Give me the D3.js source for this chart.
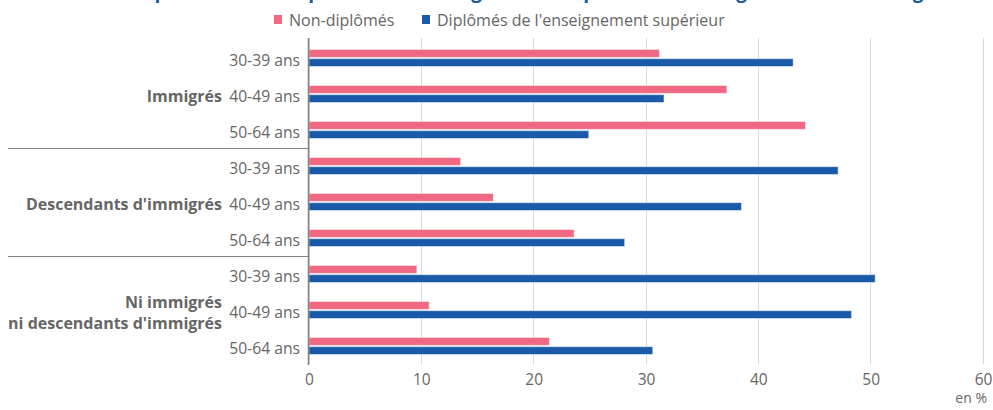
<!DOCTYPE html>
<html lang="fr">
<head>
<meta charset="utf-8">
<script src="https://cdn.jsdelivr.net/npm/d3@7/dist/d3.min.js"></script>
<style>
  html, body { margin: 0; padding: 0; background: #fff; }
  svg { display: block; font-family: "Open Sans", "Noto Sans", sans-serif; }
</style>
</head>
<body>
<svg id="chart" width="993" height="410"></svg>
<script>
// Groups, age classes and the two series (shares in %)
const groups = ["Immigrés", "Descendants d'immigrés", "Ni immigrés\nni descendants d'immigrés"];
const ages = ["30-39 ans", "40-49 ans", "50-64 ans"];
const seriesNames = ["Non-diplômés", "Diplômés de l'enseignement supérieur"];
const nonDiplomes = [31.2, 37.2, 44.2, 13.5, 16.4, 23.6, 9.6, 10.7, 21.4];
const diplomesSup = [43.1, 31.6, 24.9, 47.1, 38.5, 28.1, 50.4, 48.3, 30.6];
const xTicks = [0, 10, 20, 30, 40, 50, 60];
const title = "Part des non-diplômés et des diplômés de l'enseignement supérieur selon l'âge et le lien à la migration";
const unitLabel = "en %";

const colors = ["#f06882", "#1a5aa8"];
const textColor = "#666666";

const svg = d3.select("#chart");
const W = 993, H = 410;
const plot = { left: 309, right: 983, top: 40, bottom: 364 };

// Rows: one per (group, age)
const rows = [];
groups.forEach((g, gi) => ages.forEach((a, ai) => rows.push({ key: gi + "|" + ai, group: gi, age: a })));
rows.forEach((r, i) => { r.values = [nonDiplomes[i], diplomesSup[i]]; });

const x = d3.scaleLinear().domain([0, 60]).range([plot.left, plot.right]);
const y = d3.scaleBand().domain(rows.map(r => r.key))
  .range([plot.top, plot.bottom]).paddingInner(0.53).paddingOuter(0.265);
const ySub = d3.scaleBand().domain([0, 1]).range([0, y.bandwidth()]).paddingInner(0.15);

// Title, running off the top edge
svg.append("text")
  .attr("x", W / 2).attr("y", -2)
  .attr("text-anchor", "middle")
  .attr("font-size", 19).attr("font-weight", 700)
  .attr("fill", "#1a5aa8")
  .text(title);

// Legend
const legend = svg.append("g");
const legendItems = [{ x: 274, name: seriesNames[0], c: colors[0] }, { x: 422, name: seriesNames[1], c: colors[1] }];
legendItems.forEach(it => {
  legend.append("rect").attr("x", it.x).attr("y", 15).attr("width", 8).attr("height", 9).attr("fill", it.c);
  legend.append("text").attr("x", it.x + 15).attr("y", 19.5)
    .attr("dominant-baseline", "central")
    .attr("font-size", 16).attr("fill", textColor).text(it.name);
});

// Vertical grid
svg.append("g").selectAll("line").data(xTicks).join("line")
  .attr("x1", d => x(d)).attr("x2", d => x(d))
  .attr("y1", plot.top - 2).attr("y2", plot.bottom)
  .attr("stroke", "#d9d9d9").attr("stroke-width", 1)
  .attr("shape-rendering", "crispEdges");

// x axis tick labels
const xAxis = d3.axisBottom(x).tickValues(xTicks).tickSize(0).tickPadding(10);
const gx = svg.append("g").attr("transform", `translate(0,${plot.bottom})`).call(xAxis);
gx.select(".domain").remove();
gx.selectAll("text").attr("font-size", 15.5).attr("fill", textColor)
  .attr("font-family", "\"Open Sans\", sans-serif");

svg.append("text").attr("x", 987).attr("y", 403)
  .attr("text-anchor", "end").attr("font-size", 14).attr("fill", textColor)
  .text(unitLabel);

// Bars
const rowG = svg.append("g").selectAll("g").data(rows).join("g")
  .attr("transform", d => `translate(0,${y(d.key)})`);
rowG.selectAll("rect").data(d => d.values.map((v, i) => ({ v, i }))).join("rect")
  .attr("x", x(0))
  .attr("y", d => ySub(d.i))
  .attr("width", d => x(d.v) - x(0))
  .attr("height", ySub.bandwidth())
  .attr("fill", d => colors[d.i])
  .attr("stroke", "#ffffff").attr("stroke-opacity", 0.45).attr("stroke-width", 1);

// y axis: age labels
const step = y.step();
svg.append("g").selectAll("text").data(rows).join("text")
  .attr("x", 300)
  .attr("y", d => y(d.key) + y.bandwidth() / 2 + 2)
  .attr("text-anchor", "end").attr("dominant-baseline", "central")
  .attr("font-size", 15.7).attr("fill", textColor)
  .text(d => d.age);

// Group labels
groups.forEach((g, gi) => {
  const mid = y(gi + "|1") + y.bandwidth() / 2 + 2;
  const lines = g.split("\n");
  const t = svg.append("text").attr("text-anchor", "end")
    .attr("font-size", 16).attr("font-weight", 700).attr("fill", textColor);
  lines.forEach((ln, li) => {
    t.append("tspan").attr("x", 222)
      .attr("y", mid + (li - (lines.length - 1) / 2) * 21)
      .attr("dominant-baseline", "central").text(ln);
  });
});

// Group separators
[1, 2].forEach(gi => {
  const yy = Math.round(y(gi + "|0") - (step - y.bandwidth()) / 2) + 0.5;
  svg.append("line").attr("x1", 8).attr("x2", plot.left).attr("y1", yy).attr("y2", yy)
    .attr("stroke", "#808080").attr("stroke-width", 1);
});

// Category axis line
svg.append("line").attr("x1", plot.left - 0.5).attr("x2", plot.left - 0.5)
  .attr("y1", plot.top - 2).attr("y2", plot.bottom + 1)
  .attr("stroke", "#808080").attr("stroke-width", 1.5);
</script>
</body>
</html>
